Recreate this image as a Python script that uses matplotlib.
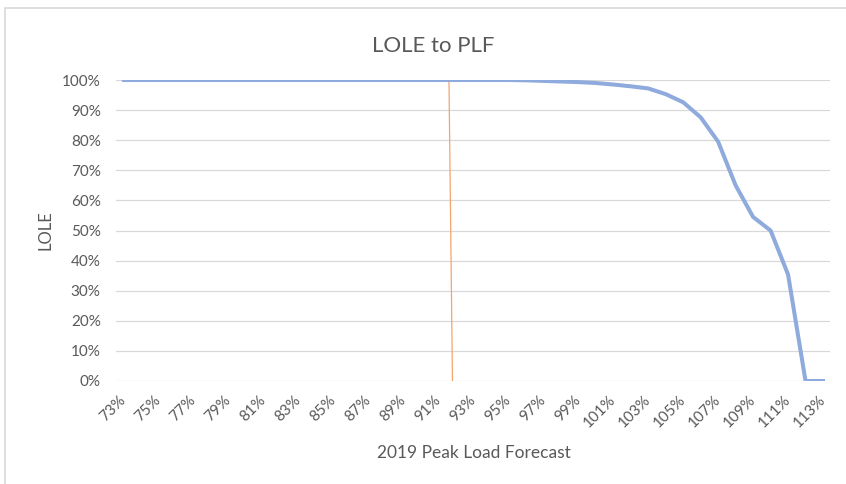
import matplotlib
matplotlib.use("Agg")
import matplotlib.pyplot as plt
from matplotlib.patches import Rectangle
from matplotlib.ticker import FixedLocator, FuncFormatter

plt.rcParams['font.family'] = ['Lato', 'DejaVu Sans']

# Data
categories = [f"{p}%" for p in range(73, 114)]
lole = [100]*23 + [99.9, 99.7, 99.5, 99.3, 99.0, 98.5, 97.9, 97.2, 95.3,
                   92.6, 87.6, 79.5, 65.0, 54.5, 50.0, 35.4, 0.0, 0.0]
marker_pct = [91.6, 91.8]      # orange reference line x (percent)
marker_val = [100, 0]          # orange reference line y (percent)
yticks = [0, 10, 20, 30, 40, 50, 60, 70, 80, 90, 100]

gray = '#595959'
fig = plt.figure(figsize=(8.46, 4.84), dpi=100)
fig.patches.append(Rectangle((5/846, -0.1), 1.2, 1 - 8/484 + 0.1,
                             transform=fig.transFigure, fill=False,
                             edgecolor='#D9D9D9', linewidth=1.2))

ax = fig.add_axes([116/846, 1 - 381/484, (830 - 116)/846, (381 - 80)/484])
x = list(range(len(categories)))
ax.plot(x, lole, color='#8FAADC', linewidth=2.9, solid_joinstyle='round', zorder=3)
mx = [p - 73 for p in marker_pct]
ax.plot(mx, marker_val, color='#F4A46E', linewidth=0.9, zorder=2)

ax.set_xlim(-0.45, 40.4)
ax.set_ylim(0, 100)
ax.yaxis.set_major_locator(FixedLocator(yticks))
ax.yaxis.set_major_formatter(FuncFormatter(lambda v, p: f"{int(v)}%"))
ax.grid(axis='y', color='#D9D9D9', linewidth=0.9)
ax.set_axisbelow(True)
for s in ax.spines.values():
    s.set_visible(False)

ax.set_xticks(x[::2])
ax.set_xticklabels(categories[::2], rotation=45, ha='right', va='center',
                   rotation_mode='anchor')
ax.tick_params(axis='x', length=0, pad=12, labelsize=11, labelcolor=gray)
ax.tick_params(axis='y', length=0, pad=11, labelsize=11, labelcolor=gray)

fig.text(433/846, 1 - 46/484, 'LOLE to PLF', ha='center', va='center',
         fontsize=16, color=gray)
fig.text(45/846, 1 - 230/484, 'LOLE', ha='center', va='center', rotation=90,
         fontsize=12, color=gray)
fig.text(474/846, 1 - 453/484, '2019 Peak Load Forecast', ha='center',
         va='center', fontsize=12.5, color=gray)

fig.savefig('out.png', dpi=100)
